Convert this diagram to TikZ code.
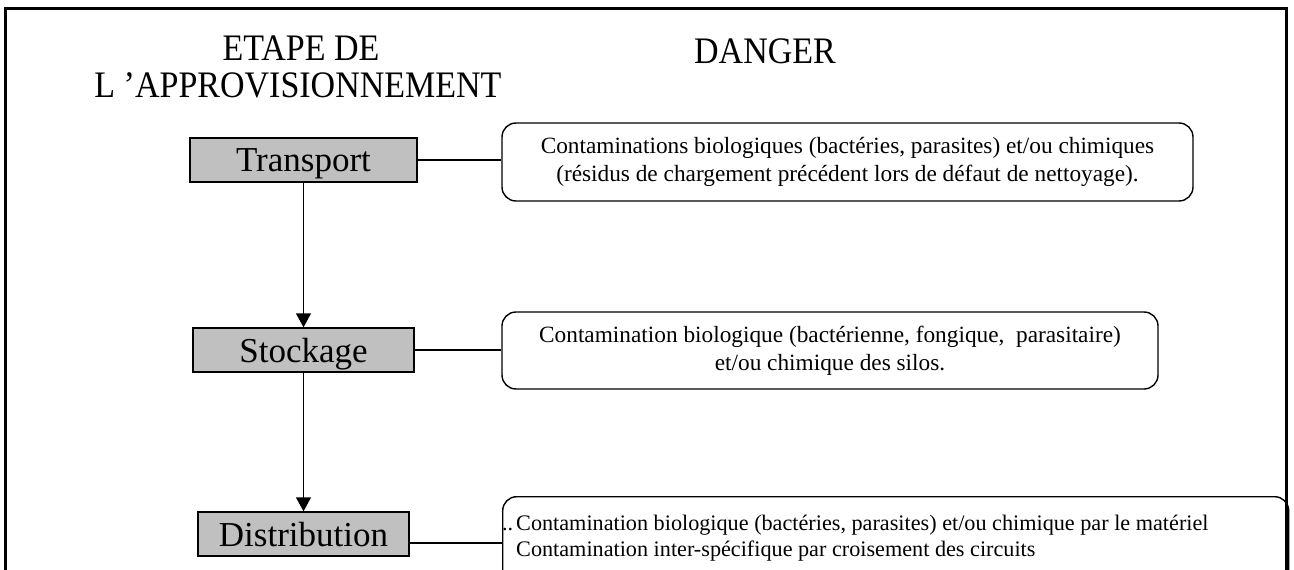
\documentclass[tikz,border=0pt]{standalone}
\usepackage{fontspec}
\usepackage{graphicx}
\setmainfont{Liberation Serif}
\usetikzlibrary{arrows.meta}
\definecolor{stepgray}{HTML}{C0C0C0}
% headings are set slightly taller than wide
\newcommand{\tallhead}[1]{\scalebox{1}[1.1]{#1}}
\begin{document}
\begin{tikzpicture}[x=1pt,y=-1pt,
  stepbox/.style={draw=black, line width=1.4pt, fill=stepgray, inner sep=0pt,
    minimum height=44pt, text depth=0pt, font=\fontsize{35}{35}\selectfont},
  dangerbox/.style={draw=black, line width=1.4pt, rounded corners=14pt, inner sep=0pt},
  dangertext/.style={font=\fontsize{23.3}{28}\selectfont, align=center, inner sep=0pt},
  titletext/.style={font=\fontsize{34}{38}\selectfont, inner sep=0pt},
  link/.style={line width=1.4pt},
  flow/.style={line width=1.4pt, -{Triangle[length=14pt,width=15pt]}}]
\useasboundingbox (0,0) rectangle (1294,570);
\clip (0,0) rectangle (1294,570);

% outer frame, open at the bottom
\draw[line width=3pt] (5,580) -- (5,8) -- (1286,8) -- (1286,580);

% column headings
\node[titletext, anchor=base] (head1) at (301,60) {\tallhead{ETAPE DE}};
\node[titletext, anchor=base] (head2) at (298,97) {\tallhead{L ’APPROVISIONNEMENT}};
\node[titletext, anchor=base] (head3) at (765,63) {\tallhead{DANGER}};

% steps
\node[stepbox, minimum width=227pt] (transport) at (303.5,160) {Transport};
\node[stepbox, minimum width=221pt] (stockage) at (303.5,350) {Stockage};
\node[stepbox, minimum width=211pt] (distribution) at (303.5,534) {Distribution};

% hazards
\node[dangerbox, minimum width=691pt, minimum height=78pt] (d1) at (847.5,162) {};
\node[dangertext] (t1) at (d1.center) {Contaminations biologiques (bactéries, parasites) et/ou chimiques\\(résidus de chargement précédent lors de défaut de nettoyage).};

\node[dangerbox, minimum width=656pt, minimum height=77pt] (d2) at (830,350.5) {};
\node[dangertext] (t2) at (d2.center) {Contamination biologique (bactérienne, fongique,~ parasitaire)\\et/ou chimique des silos.};

\node[dangerbox, minimum width=786pt, minimum height=110pt, anchor=north west] (d3) at (502,496) {};
\node[dangertext, align=left, anchor=base west, font=\fontsize{22.2}{26}\selectfont] (t3) at (516,556)
  {\llap{..\kern3pt}Contamination biologique (bactéries, parasites) et/ou chimique par le matériel\\Contamination inter-spécifique par croisement des circuits};

% connectors
\draw[flow] (transport.south) -- (stockage.north);
\draw[flow] (stockage.south) -- (distribution.north);
\draw[link] (transport.east) -- (transport.east -| d1.west);
\draw[link] (stockage.east) -- (stockage.east -| d2.west);
\draw[link] ([yshift=-9pt]distribution.east) -- ([yshift=-9pt]distribution.east -| d3.west);
\end{tikzpicture}
\end{document}
